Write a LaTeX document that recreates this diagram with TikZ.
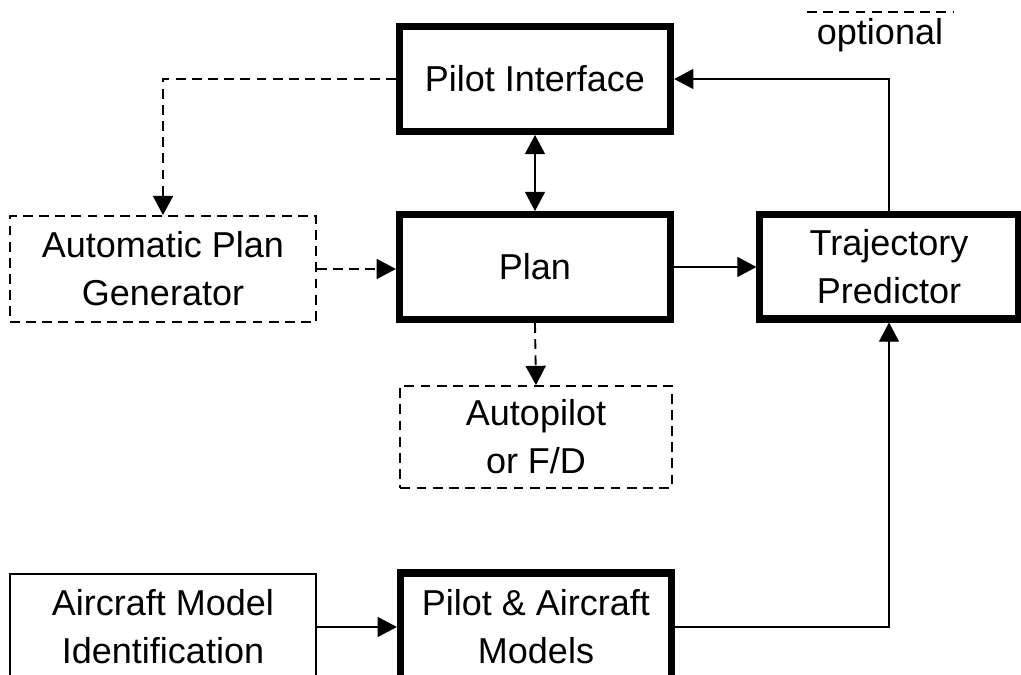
\documentclass[tikz,border=0pt]{standalone}
\usepackage{fontspec}
\setmainfont{Liberation Sans}
\usetikzlibrary{arrows.meta}
\tikzset{
  block/.style={draw,line width=5pt,minimum width=6.78cm,minimum height=2.62cm,align=center,inner sep=4pt},
  optblock/.style={draw,line width=1.3pt,dash pattern=on 7pt off 4.5pt,minimum width=6.78cm,minimum height=2.55cm,align=center,inner sep=4pt},
  plainblock/.style={draw,line width=1pt,minimum width=7.65cm,minimum height=2.65cm,align=center,inner sep=4pt},
  flow/.style={line width=1pt,-{Triangle[length=0.48cm,width=0.5cm]}},
  biflow/.style={line width=1pt,{Triangle[length=0.48cm,width=0.5cm]}-{Triangle[length=0.48cm,width=0.5cm]}},
  optflow/.style={flow,line width=1.3pt,dash pattern=on 7pt off 4.5pt},
}
\begin{document}
\begin{tikzpicture}[x=0.025cm,y=-0.025cm,font=\fontsize{25.6}{34}\selectfont]
  \useasboundingbox (0,0) rectangle (1021,675);
  % === blocks ===
  \node[block] (pi) at (535,79) {Pilot Interface};
  \node[block] (plan) at (535,267) {Plan};
  \node[block,minimum width=6.45cm,minimum height=2.6cm] (tp) at (889,267) {Trajectory\\Predictor};
  \node[optblock,minimum width=7.65cm,minimum height=2.65cm] (apg) at (163,269) {Automatic Plan\\Generator};
  \node[optblock] (ap) at (536,437) {Autopilot\\or F/D};
  \node[plainblock] (ami) at (163,627) {Aircraft Model\\Identification};
  \node[block,minimum height=2.7cm] (pam) at (536,627) {Pilot \& Aircraft\\Models};
  % === legend ===
  \draw[line width=1.3pt,dash pattern=on 7pt off 4.5pt] (807,12) coordinate (lgl) -- (953,12) coordinate (lgr);
  \node[anchor=base,inner sep=0pt] (lgtext) at (880,45) {optional};
  % === connectors ===
  \draw[optflow] (pi.west) -| (apg.north);
  \draw[optflow] (apg.east) -- (apg.east -| plan.west);
  \draw[optflow] (plan.south) -- (ap.north);
  \draw[biflow] (pi.south) -- (plan.north);
  \draw[flow] (plan.east) -- (tp.west);
  \draw[flow] (tp.north) |- (pi.east);
  \draw[flow] (pam.east) -| (tp.south);
  \draw[flow] (ami.east) -- (pam.west);
\end{tikzpicture}
\end{document}
